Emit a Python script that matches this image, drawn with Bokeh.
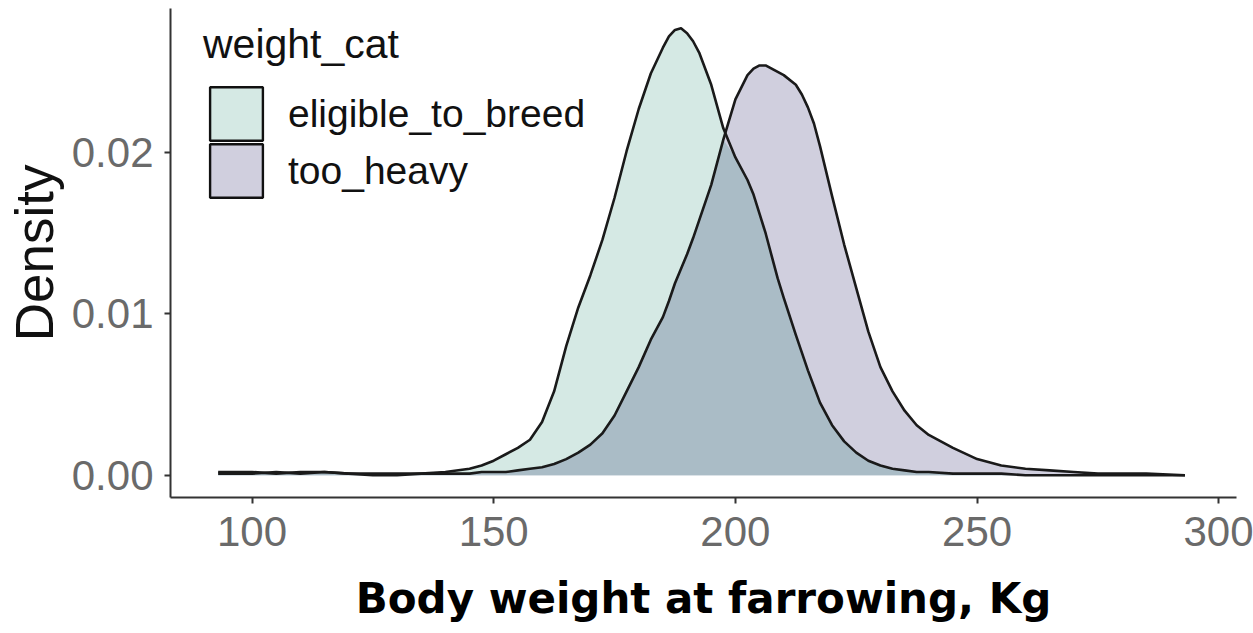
import numpy as np
from bokeh.plotting import figure
from bokeh.models import (Range1d, FixedTicker, PrintfTickFormatter, Legend,
                          LegendItem, ColumnDataSource)
from bokeh.embed import file_html
from bokeh.resources import INLINE

# ---- data ----
categories = ["eligible_to_breed", "too_heavy"]
legend_title = "weight_cat"
x_title = "Body weight at farrowing, Kg"
y_title = "Density"
x_ticks = [100, 150, 200, 250, 300]
y_ticks = [0.00, 0.01, 0.02]

weights = [93, 100, 105, 110, 115, 120, 125, 130, 135, 140, 145,
           147.5, 150, 152.5, 155, 157.5, 160, 162.5, 165, 167.5, 170,
           172.5, 175, 177.5, 180, 182.5, 185, 186.25, 187.5, 188.75, 190,
           191.25, 192.5, 195, 197.5, 200, 202.5, 203.75, 205, 206.25, 207.5,
           208.75, 210, 212.5, 213.75, 215, 216.25, 217.5, 220, 222.5, 225,
           227.5, 230, 232.5, 235, 237.5, 240, 245, 250, 255, 260, 265, 270,
           275, 280, 285, 293]

eligible_to_breed = [0.0002, 0.0002, 0.0001, 0.0002, 0.0002, 0.0001, 0.0001, 0.0001, 0.0001, 0.0002, 0.0004,
                     0.0006, 0.0009, 0.0013, 0.0017, 0.0022, 0.0033, 0.0052, 0.0080, 0.0104, 0.0124,
                     0.0146, 0.0172, 0.0201, 0.0227, 0.0249, 0.0265, 0.0272, 0.0276, 0.0277, 0.0274,
                     0.0269, 0.0262, 0.0242, 0.0215, 0.0197, 0.0183, 0.0174, 0.0162, 0.0150, 0.0136,
                     0.0122, 0.0110, 0.0087, 0.0076, 0.0065, 0.0055, 0.0045, 0.0031, 0.0021, 0.0014,
                     0.0009, 0.0006, 0.0004, 0.0003, 0.0002, 0.0002, 0.0001, 0.0001, 0.0001, 0.0000,
                     0.0000, 0.0000, 0.0000, 0.0000, 0.0000, 0.0000]

too_heavy = [0.0001, 0.0001, 0.0002, 0.0001, 0.0002, 0.0001, 0.0000, 0.0000, 0.0001, 0.0001, 0.0001,
             0.0002, 0.0002, 0.0002, 0.0003, 0.0004, 0.0005, 0.0007, 0.0010, 0.0014, 0.0019,
             0.0026, 0.0037, 0.0052, 0.0067, 0.0084, 0.0098, 0.0108, 0.0119, 0.0128, 0.0137,
             0.0147, 0.0158, 0.0180, 0.0208, 0.0233, 0.0248, 0.0252, 0.0254, 0.0254, 0.0252,
             0.0250, 0.0248, 0.0242, 0.0236, 0.0228, 0.0218, 0.0204, 0.0173, 0.0143, 0.0116,
             0.0089, 0.0067, 0.0052, 0.0040, 0.0031, 0.0025, 0.0017, 0.0010, 0.0006, 0.0004,
             0.0003, 0.0002, 0.0001, 0.0001, 0.0001, 0.0000]

# ---- styles ----
MINT = "#d5e9e4"
LAV = "#d0cfde"
OVERLAP = "#aabcc6"
LINE = "#1a1a1a"
TICK_TXT = "#6a6a6a"
AX = "#333333"

src = ColumnDataSource(dict(
    x=weights,
    e=eligible_to_breed,
    h=too_heavy,
    o=np.minimum(np.array(eligible_to_breed), np.array(too_heavy)),
))

p = figure(width=1253, height=633, output_backend="svg", toolbar_location=None,
           x_range=Range1d(83.14, 303.66), y_range=Range1d(-0.00138, 0.02893),
           min_border_left=170, min_border_right=17, min_border_top=8,
           min_border_bottom=136)
p.outline_line_color = None
p.xgrid.visible = False
p.ygrid.visible = False
p.background_fill_color = "white"
p.border_fill_color = "white"

p.varea(x="x", y1=0, y2="e", source=src, fill_color=MINT)
p.varea(x="x", y1=0, y2="h", source=src, fill_color=LAV)
p.varea(x="x", y1=0, y2="o", source=src, fill_color=OVERLAP)
p.line(x="x", y="e", source=src, line_color=LINE, line_width=2.6, line_join="round")
p.line(x="x", y="h", source=src, line_color=LINE, line_width=2.6, line_join="round")

# legend keys: hidden renderers used only for their key glyphs
key_src = ColumnDataSource(dict(l=[0], r=[0], t=[0], b=[0]))
r_e = p.quad(left="l", right="r", top="t", bottom="b", source=key_src,
             fill_color=MINT, line_color="#111111", line_width=2.4)
r_h = p.quad(left="l", right="r", top="t", bottom="b", source=key_src,
             fill_color=LAV, line_color="#111111", line_width=2.4)
r_e.visible = False
r_h.visible = False


def make_legend(items, location, title=None):
    kw = dict(items=items, location=location, padding=0, margin=0, spacing=0,
              glyph_width=66, glyph_height=67, label_standoff=19,
              border_line_alpha=0, background_fill_alpha=0)
    if title is not None:
        kw.update(title=title, title_standoff=12)
    lg = Legend(**kw)
    lg.title_text_font = "Liberation Sans"
    lg.title_text_font_size = "41px"
    lg.title_text_font_style = "normal"
    lg.title_text_color = "#111111"
    lg.label_text_font = "Liberation Sans"
    lg.label_text_font_size = "39px"
    lg.label_text_color = "#111111"
    return lg


legend_a = make_legend([LegendItem(label=categories[0], renderers=[r_e])],
                       (33, 350), title=legend_title)
legend_b = make_legend([LegendItem(label=categories[1], renderers=[r_h])],
                       (33, 293))
p.add_layout(legend_a)
p.add_layout(legend_b)

for ax in (p.xaxis[0], p.yaxis[0]):
    ax.axis_line_color = AX
    ax.axis_line_width = 2
    ax.major_tick_line_color = AX
    ax.major_tick_line_width = 2
    ax.major_tick_out = 6
    ax.major_tick_in = 0
    ax.minor_tick_line_color = None
    ax.major_label_text_font = "Liberation Sans"
    ax.major_label_text_font_size = "42px"
    ax.major_label_text_color = TICK_TXT

p.xaxis.ticker = FixedTicker(ticks=x_ticks)
p.yaxis.ticker = FixedTicker(ticks=y_ticks)
p.yaxis.formatter = PrintfTickFormatter(format="%.2f")
p.xaxis.major_label_standoff = 13
p.yaxis.major_label_standoff = 11

p.xaxis.axis_label = x_title
p.xaxis.axis_label_text_font = "DejaVu Sans"
p.xaxis.axis_label_text_font_style = "bold"
p.xaxis.axis_label_text_font_size = "42px"
p.xaxis.axis_label_text_color = "#000000"
p.xaxis.axis_label_standoff = 25

p.yaxis.axis_label = y_title
p.yaxis.axis_label_text_font = "Liberation Sans"
p.yaxis.axis_label_text_font_style = "normal"
p.yaxis.axis_label_text_font_size = "53px"
p.yaxis.axis_label_text_color = "#111111"
p.yaxis.axis_label_standoff = 5

open("out.html", "w").write(file_html(p, INLINE))
